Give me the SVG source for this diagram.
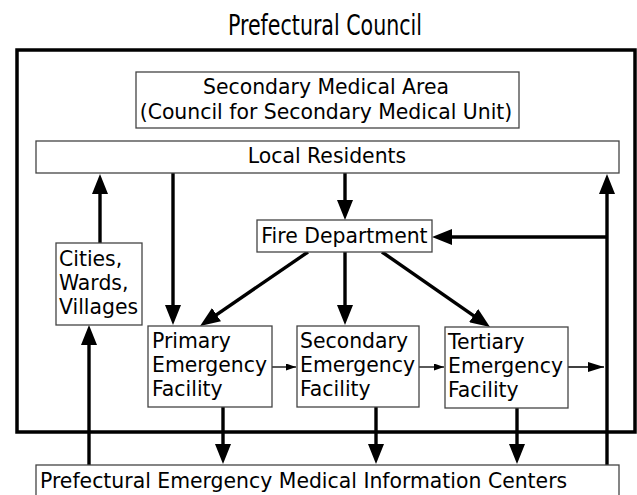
<svg xmlns="http://www.w3.org/2000/svg" width="637" height="495" viewBox="0 0 637 495">
<style>
.box{fill:#fff;stroke:#444;stroke-width:1.3}
.t{font-family:"DejaVu Sans","Verdana",sans-serif;font-size:20.4px;fill:#000}
.c{text-anchor:middle}
.thick{stroke:#000;stroke-width:3.4;fill:none}
.thin{stroke:#000;stroke-width:1.3;fill:none}
</style>
<defs>
<marker id="ah" markerUnits="userSpaceOnUse" markerWidth="20" markerHeight="16" refX="10" refY="8" orient="auto">
<path d="M0,0 L20,8 L0,16 z" fill="#000"/>
</marker>
<marker id="as" markerUnits="userSpaceOnUse" markerWidth="10" markerHeight="7" refX="10" refY="3.5" orient="auto">
<path d="M0,0 L10,3.5 L0,7 z" fill="#000"/>
</marker>
<marker id="am" markerUnits="userSpaceOnUse" markerWidth="16" markerHeight="10" refX="16" refY="5" orient="auto">
<path d="M0,0 L16,5 L0,10 z" fill="#000"/>
</marker>
</defs>
<rect width="637" height="495" fill="#fff"/>
<text x="325" y="35" text-anchor="middle" font-family="'Liberation Sans Narrow','DejaVu Sans Condensed','Liberation Sans',sans-serif" font-size="28" textLength="194" lengthAdjust="spacingAndGlyphs">Prefectural Council</text>
<g id="council"><rect x="17" y="50" width="618" height="382" fill="none" stroke="#000" stroke-width="3.5"/></g>
<g id="connectors">
<line class="thick" x1="100" y1="243" x2="100" y2="184" marker-end="url(#ah)"/>
<line class="thick" x1="173" y1="173" x2="173" y2="315" marker-end="url(#ah)"/>
<line class="thick" x1="345" y1="173" x2="345" y2="210" marker-end="url(#ah)"/>
<line class="thick" x1="308" y1="252" x2="208.3" y2="320.3" marker-end="url(#ah)"/>
<line class="thick" x1="345" y1="252" x2="345" y2="315" marker-end="url(#ah)"/>
<line class="thick" x1="382" y1="252" x2="481.8" y2="321.3" marker-end="url(#ah)"/>
<line class="thick" x1="607" y1="466" x2="607" y2="184" marker-end="url(#ah)"/>
<line class="thick" x1="607" y1="237" x2="442" y2="237" marker-end="url(#ah)"/>
<line class="thick" x1="89" y1="466" x2="89" y2="335" marker-end="url(#ah)"/>
<line class="thick" x1="223" y1="407" x2="223" y2="454" marker-end="url(#ah)"/>
<line class="thick" x1="376" y1="407" x2="376" y2="454" marker-end="url(#ah)"/>
<line class="thick" x1="517" y1="408" x2="517" y2="454" marker-end="url(#ah)"/>
<line class="thin" x1="272" y1="367" x2="296" y2="367" marker-end="url(#as)"/>
<line class="thin" x1="419" y1="367" x2="444" y2="367" marker-end="url(#as)"/>
<line class="thin" x1="568" y1="367" x2="604" y2="367" marker-end="url(#am)"/>
</g>
<g id="secondary-medical-area">
<rect class="box" x="136" y="72" width="383" height="56"/>
<text class="t c" x="326" y="94">Secondary Medical Area</text>
<text class="t c" x="326" y="119">(Council for Secondary Medical Unit)</text>
</g>
<g id="local-residents">
<rect class="box" x="36" y="141" width="583" height="32"/>
<text class="t c" x="327" y="163">Local Residents</text>
</g>
<g id="fire-department">
<rect class="box" x="257" y="220" width="175" height="32"/>
<text class="t c" x="344.5" y="243">Fire Department</text>
</g>
<g id="cities">
<rect class="box" x="56" y="243" width="86" height="82"/>
<text class="t" x="59" y="266">Cities,</text>
<text class="t" x="59" y="290">Wards,</text>
<text class="t" x="59" y="314">Villages</text>
</g>
<g id="primary">
<rect class="box" x="148" y="326" width="124" height="81"/>
<text class="t" x="152" y="348">Primary</text>
<text class="t" x="152" y="372">Emergency</text>
<text class="t" x="152" y="396">Facility</text>
</g>
<g id="secondary">
<rect class="box" x="297" y="326" width="122" height="81"/>
<text class="t" x="300" y="348">Secondary</text>
<text class="t" x="300" y="372">Emergency</text>
<text class="t" x="300" y="396">Facility</text>
</g>
<g id="tertiary">
<rect class="box" x="445" y="327" width="123" height="81"/>
<text class="t" x="448" y="349">Tertiary</text>
<text class="t" x="448" y="373">Emergency</text>
<text class="t" x="448" y="397">Facility</text>
</g>
<g id="info-centers">
<rect class="box" x="36" y="465" width="583" height="40"/>
<text class="t" x="40" y="488">Prefectural Emergency Medical Information Centers</text>
</g>
</svg>
